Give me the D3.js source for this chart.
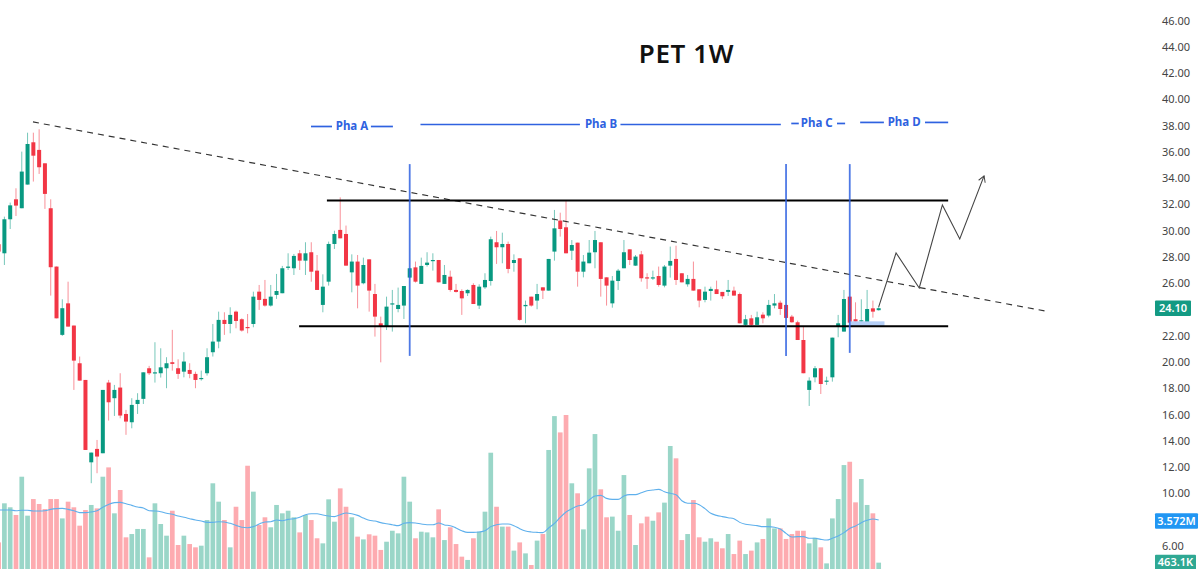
<!DOCTYPE html>
<html><head><meta charset="utf-8">
<script src="https://cdn.jsdelivr.net/npm/d3@7/dist/d3.min.js"></script>
<style>
html,body{margin:0;padding:0;background:#fff;overflow:hidden}
svg{display:block}
text{font-family:"Noto Sans",sans-serif}
</style></head><body>
<svg id="c" width="1200" height="569"></svg>
<script>
// Weekly candles, bar numbers start at -1 (partly cut off at the left edge)
const highs=[29.17,31.07,32.14,33.23,36.02,37.46,37.46,37.72,35.13,32.39,
27.27,24.78,26.12,22.78,20.42,18.64,13.11,14.07,17.88,18.64,
18.26,19.15,16.36,17.25,17.63,19.22,19.71,21.51,21.05,20.37,
22.45,20.21,20.75,19.91,19.27,19.35,21.05,22.90,23.84,23.79,
24.17,23.92,23.33,23.66,25.36,25.87,26.25,25.87,26.71,27.32,
28.28,28.23,28.53,29.12,29.12,28.15,26.68,29.17,30.00,32.54,
30.39,28.20,28.15,27.95,27.82,25.95,23.46,24.98,25.49,25.67,
25.79,27.14,27.65,27.95,28.36,28.28,27.77,27.39,26.96,25.95,
25.54,25.54,26.00,25.92,26.76,29.55,29.98,29.85,29.17,28.20,
27.90,24.68,24.98,25.95,25.69,27.85,31.58,31.37,32.29,29.29,
29.09,28.15,29.29,29.98,29.12,26.45,26.55,27.09,29.29,28.58,
28.15,28.46,26.76,26.96,27.27,27.39,28.79,28.86,26.76,26.63,
27.65,25.54,25.74,25.74,26.20,25.34,26.25,25.74,25.29,23.59,
23.59,23.84,23.79,24.73,25.18,24.68,24.35,23.59,23.15,22.70,
18.84,19.70,19.53,18.89,21.86,23.59,25.49,24.98,24.55,24.78,
25.49,24.68,24.22];
const lows=[28.28,27.39,30.13,31.12,31.71,33.51,33.74,34.32,31.66,25.06,
23.33,21.99,22.70,17.88,18.59,13.31,10.78,11.54,13.06,15.55,
15.90,15.72,14.46,14.96,16.05,16.81,19.02,18.44,18.82,18.01,
19.35,18.72,18.84,18.77,18.01,18.59,18.97,20.42,21.05,22.07,
22.19,22.57,22.32,22.19,22.65,23.97,24.22,24.22,24.81,25.24,
27.01,26.63,27.01,26.63,26.12,25.49,23.79,25.82,28.61,29.42,
27.34,25.31,24.09,25.92,23.84,21.94,19.98,22.44,22.32,23.79,
23.28,26.38,26.05,25.95,27.27,26.96,26.07,25.95,25.36,25.29,
23.59,25.03,24.42,24.04,25.57,25.82,27.47,27.52,26.76,26.88,
23.15,22.95,24.22,24.02,24.80,25.44,27.72,29.55,28.28,27.77,
25.74,26.45,27.52,27.14,24.98,24.30,24.14,25.49,27.14,27.39,
27.32,26.12,25.57,26.25,25.74,25.69,26.43,25.87,26.07,25.74,
25.44,24.17,24.55,24.68,25.18,24.80,25.03,25.06,22.95,22.75,
22.75,22.83,22.95,23.41,24.09,23.59,23.33,23.00,21.68,19.15,
16.66,18.46,17.57,18.26,18.51,21.89,22.32,22.95,22.95,22.88,
22.90,23.38,23.92];
const opens=[28.97,28.28,30.87,32.39,31.71,33.51,36.73,36.15,35.13,31.71,
27.27,22.07,24.47,22.78,19.91,18.64,12.37,13.39,13.06,18.44,
17.25,18.06,16.05,15.42,16.81,17.20,19.53,19.17,19.15,19.53,
19.99,19.53,19.27,19.40,19.10,18.72,19.15,20.75,21.56,23.21,
22.90,23.84,23.26,22.67,22.90,25.36,24.81,24.30,25.11,25.24,
27.17,27.14,28.28,27.72,28.36,26.96,24.35,26.12,28.99,30.06,
29.75,26.83,27.65,26.00,27.82,25.18,22.95,22.70,24.42,24.04,
24.30,26.43,27.21,25.95,27.39,27.72,27.77,25.95,26.50,25.49,
25.41,25.24,25.87,24.30,25.69,26.17,29.12,28.74,28.99,27.54,
27.90,24.25,24.98,24.68,25.69,25.44,28.41,30.77,30.26,28.48,
29.09,26.88,27.52,28.36,29.12,26.45,24.47,26.17,27.14,28.58,
27.34,28.20,26.45,26.38,26.55,25.82,27.34,27.85,26.76,25.92,
26.33,25.54,24.73,25.41,25.54,25.34,25.34,25.44,25.18,22.83,
23.33,22.83,23.61,23.54,24.30,24.52,24.35,23.46,23.03,21.68,
17.88,18.84,19.53,18.51,18.84,22.72,22.32,24.98,23.26,23.13,
22.90,24.09,23.95];
const closes=[28.41,30.87,31.93,31.91,34.50,36.60,35.71,34.83,32.80,27.22,
23.33,24.10,22.70,20.11,18.59,13.31,13.11,12.81,17.88,16.94,
17.88,15.93,15.47,16.74,17.12,19.22,19.15,19.22,19.60,19.91,
19.86,19.10,20.04,19.10,18.64,18.79,20.37,21.56,23.21,22.90,
23.59,23.13,22.40,22.60,24.98,24.73,24.30,24.98,25.41,27.14,
27.27,28.08,27.72,28.28,26.88,25.49,25.74,28.99,29.75,29.42,
27.34,27.65,25.82,27.39,25.44,23.46,22.70,24.22,24.47,24.35,
25.79,27.14,26.12,27.32,27.57,27.77,26.07,26.63,25.49,25.34,
24.85,25.49,24.42,25.74,26.25,29.35,28.74,28.99,27.09,27.77,
23.21,24.35,24.30,25.18,25.44,27.85,30.18,30.13,28.28,28.91,
26.88,27.65,28.33,29.29,26.33,25.82,26.20,26.96,28.36,27.77,
28.03,26.38,26.40,26.45,25.87,27.27,27.70,26.25,26.07,26.33,
25.44,24.68,25.36,25.57,25.18,25.01,25.49,25.06,22.95,23.26,
22.83,23.41,23.33,24.35,24.47,24.04,23.36,23.03,21.68,19.15,
18.59,19.53,18.33,18.59,21.86,22.95,24.80,23.00,23.08,23.18,
24.04,23.84,24.10];
// Volume in millions of shares
const volumes=[1.94,4.79,4.50,3.94,6.73,3.89,5.10,4.74,4.37,5.10,
5.10,3.69,4.91,4.50,3.16,4.30,4.67,4.42,6.73,7.41,
4.06,5.76,2.31,2.55,2.92,2.92,0.85,4.79,3.28,2.43,
4.25,1.75,2.43,1.82,1.58,1.70,3.57,6.25,4.91,3.57,
1.58,4.54,3.57,7.53,5.64,3.21,3.77,3.04,4.67,4.06,
4.25,3.77,2.67,3.94,3.57,2.24,1.87,5.08,3.45,5.88,
4.54,3.77,2.36,2.16,2.53,2.43,1.39,1.99,2.79,2.60,
6.73,4.91,2.24,2.72,2.67,2.31,4.35,2.11,3.04,1.82,
0.90,0.66,2.24,2.72,4.18,8.48,4.54,3.09,3.09,1.34,
1.94,1.14,0.29,2.07,2.55,8.68,11.15,9.96,11.23,6.25,
5.52,2.89,7.34,9.84,5.81,3.77,3.82,2.79,6.85,3.94,
1.75,3.33,3.82,3.52,4.13,4.84,8.97,8.07,2.11,2.55,
5.03,2.31,1.99,2.24,1.99,1.51,2.55,1.09,2.07,1.09,
1.34,1.94,2.19,3.69,2.96,2.96,2.19,2.55,2.79,2.79,
1.87,2.28,1.58,0.41,3.69,5.10,7.58,7.82,4.86,6.56,
4.67,4.06,0.463];
const volumeMA=[4.30,4.30,4.30,4.25,4.28,4.28,4.23,4.23,4.25,4.35,
4.40,4.42,4.35,4.25,4.11,4.11,4.16,4.25,4.50,4.71,
4.84,4.86,4.76,4.64,4.52,4.45,4.25,4.23,4.18,4.06,
3.99,3.86,3.77,3.67,3.57,3.50,3.40,3.40,3.45,3.43,
3.33,3.18,3.04,3.01,3.09,3.28,3.43,3.45,3.57,3.52,
3.62,3.67,3.77,3.96,4.03,4.03,3.94,3.86,3.82,3.96,
4.08,4.03,3.91,3.72,3.55,3.50,3.38,3.30,3.23,3.16,
3.33,3.38,3.35,3.28,3.23,3.23,3.35,3.21,3.16,2.99,
2.79,2.67,2.67,2.70,2.79,3.09,3.23,3.28,3.28,3.16,
2.94,2.77,2.70,2.67,2.65,2.99,3.33,3.77,4.16,4.40,
4.59,4.69,5.03,5.32,5.37,5.15,5.08,5.08,5.32,5.42,
5.42,5.56,5.71,5.76,5.81,5.64,5.52,5.42,4.98,4.79,
4.79,4.69,4.40,4.06,3.91,3.82,3.74,3.67,3.40,3.26,
3.21,3.16,3.09,3.09,3.04,2.92,2.60,2.33,2.36,2.36,
2.24,2.24,2.16,2.11,2.24,2.41,2.65,2.96,3.13,3.38,
3.55,3.65,3.572];
const priceTicks=[46,44,42,40,38,36,34,32,30,28,26,22,20,18,16,14,12,10,6];
const titleText="PET 1W";
// Drawn studies in chart coordinates: [bar, price]
const trendLine=[[4.94,38.28],[180.2,23.85]];
const resistance=[[55.7,32.29],[163,32.29]];
const support=[[50.9,22.73],[163,22.73]];
const phaseMarkers=[[70,35.07,20.47],[135,35.07,20.47],[146,35.07,20.7]];
const projection=[[151,24.2],[154,28.31],[158,25.64],[162,31.96],[165,29.37],[169.2,34.17]];
const highlight=[146,152,23.1,22.75];
const phaseLabels=["Pha A","Pha B","Pha C","Pha D"];
const phaseTextBars=[60.03,103.04,140.3,155.4];
const phaseTextPrices=[37.97,38.12,38.2,38.28];
const phaseDashes=[[52.95,56.58,63.3,67.1],[71.86,99.4,106.4,134.1],[135.9,137.2,143.8,145.2],[147.8,151.9,159,163]];
const tagValues={price:"24.10",ma:"3.572M",vol:"463.1K"};

const GREEN="#089981",RED="#f23645",VG="#9ad6c8",VR="#fdabb0",BLUE="#2f62e0";
const svg=d3.select("#c");
const x=d3.scaleLinear().domain([-1,151]).range([4.4-5.79,4.4+5.79*151]);
const y=d3.scaleLinear().domain([6,46]).range([546,20.5]);
const v=d3.scaleLinear().domain([0,11.23]).range([569,415]);
const bars=d3.range(highs.length).map(k=>({b:k-1,h:highs[k],l:lows[k],o:opens[k],c:closes[k],vol:volumes[k],ma:volumeMA[k]}));
const up=d=>d.c>=d.o;

svg.append("g").selectAll("rect").data(bars).join("rect")
  .attr("x",d=>x(d.b)-2.35).attr("width",4.7)
  .attr("y",d=>v(d.vol)).attr("height",d=>v(0)-v(d.vol))
  .attr("fill",d=>up(d)?VG:VR);

svg.append("path").datum(bars).attr("fill","none").attr("stroke","#5fb0ec").attr("stroke-width",1.1)
  .attr("d",d3.line().x(d=>x(d.b)).y(d=>v(d.ma)).curve(d3.curveMonotoneX));

const cg=svg.append("g");
cg.selectAll("line").data(bars).join("line")
  .attr("x1",d=>x(d.b)).attr("x2",d=>x(d.b)).attr("y1",d=>y(d.h)).attr("y2",d=>y(d.l))
  .attr("stroke",d=>up(d)?GREEN:RED).attr("stroke-opacity",.55).attr("stroke-width",1);
cg.selectAll("rect").data(bars).join("rect")
  .attr("x",d=>x(d.b)-2).attr("width",4)
  .attr("y",d=>y(Math.max(d.o,d.c))).attr("height",d=>Math.max(1.2,Math.abs(y(d.o)-y(d.c))))
  .attr("fill",d=>up(d)?GREEN:RED);

// annotations
svg.append("rect").attr("x",x(highlight[0])).attr("width",x(highlight[1])-x(highlight[0]))
  .attr("y",y(highlight[2])).attr("height",y(highlight[3])-y(highlight[2])).attr("fill","#b5cff7");
const ln=d3.line().x(d=>x(d[0])).y(d=>y(d[1]));
svg.append("path").attr("d",ln(trendLine)).attr("stroke","#333").attr("stroke-width",1.15).attr("stroke-dasharray","6 5").attr("fill","none");
[resistance,support].forEach(s=>svg.append("path").attr("d",ln(s)).attr("stroke","#000").attr("stroke-width",2).attr("fill","none"));
svg.append("g").selectAll("line").data(phaseMarkers).join("line")
  .attr("x1",d=>x(d[0])).attr("x2",d=>x(d[0])).attr("y1",d=>y(d[1])).attr("y2",d=>y(d[2]))
  .attr("stroke",BLUE).attr("stroke-opacity",.85).attr("stroke-width",1.8);
svg.append("defs").append("marker").attr("id","arr").attr("viewBox","-8 -5 10 10").attr("markerWidth",10).attr("markerHeight",10)
  .attr("orient","auto").attr("markerUnits","userSpaceOnUse").append("path").attr("d","M-6,-3.5L0,0L-6,3.5").attr("fill","none").attr("stroke","#444");
svg.append("path").attr("d",ln(projection)).attr("fill","none").attr("stroke","#444").attr("stroke-width",1.1).attr("marker-end","url(#arr)");

phaseLabels.forEach((t,i)=>{
  const yy=y(phaseTextPrices[i]);
  const d=phaseDashes[i];
  [[d[0],d[1]],[d[2],d[3]]].forEach(s=>svg.append("line").attr("x1",x(s[0])).attr("x2",x(s[1]))
    .attr("y1",yy+.5).attr("y2",yy+.5).attr("stroke",BLUE).attr("stroke-width",1.7));
  svg.append("text").attr("x",x(phaseTextBars[i])).attr("y",yy+4).attr("text-anchor","middle")
    .attr("fill",BLUE).attr("font-size",11.5).attr("font-weight",700).text(t);
});

svg.append("text").attr("x",686.5).attr("y",62.5).attr("text-anchor","middle").attr("font-size",26)
  .attr("font-weight",600).attr("letter-spacing",".6").attr("fill","#111").text(titleText);

// price axis
const ax=svg.append("g").attr("transform","translate(1162,0)")
  .call(d3.axisRight(y).tickValues(priceTicks).tickSize(0).tickPadding(0).tickFormat(d3.format(".2f")));
ax.select(".domain").remove();
ax.selectAll("text").attr("font-size",11).attr("fill","#444").style("font-family",'"Noto Sans",sans-serif');

function tag(cy,txt,fill,w){
  const top=cy-7.8;
  svg.append("rect").attr("x",1155).attr("y",top).attr("width",w).attr("height",15.6).attr("rx",1).attr("fill",fill);
  svg.append("text").attr("x",1155+w/2).attr("y",cy+4).attr("text-anchor","middle").attr("font-size",11)
    .attr("font-weight",600).attr("fill","#fff").text(txt);
}
tag(y(closes[closes.length-1]),tagValues.price,"#139a83",36);
tag(v(volumeMA[volumeMA.length-1])+1,tagValues.ma,"#2196f3",43);
tag(v(volumes[volumes.length-1])-0.2,tagValues.vol,"#2fa893",41);
</script></body></html>
